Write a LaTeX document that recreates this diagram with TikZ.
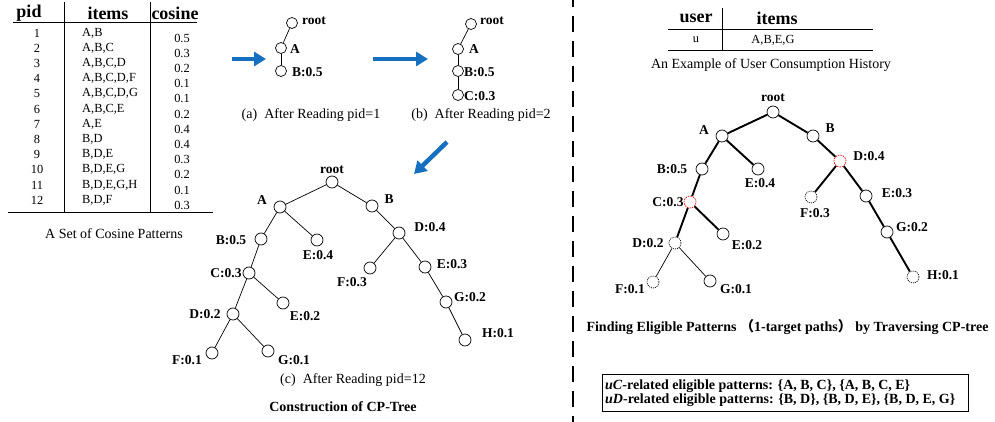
\documentclass[tikz,border=0pt]{standalone}
\usepackage{fontspec}
\setmainfont{Liberation Serif}
\newfontfamily\cjk{Noto Sans CJK SC}
\usetikzlibrary{arrows.meta}
\definecolor{arrowblue}{RGB}{22,112,192}
\begin{document}
\begin{tikzpicture}[x=1pt,y=-1pt,
  nd/.style={circle,draw,minimum size=12pt,inner sep=0pt,line width=0.7pt},
  snd/.style={nd,minimum size=11pt},
  rednd/.style={nd,draw=red,dash pattern=on 1.5pt off 1pt},
  dotnd/.style={nd,dash pattern=on 1pt off 1pt},
  lb/.style={font=\fontsize{13.5}{15}\selectfont\bfseries,inner sep=0pt},
  lbw/.style={lb,anchor=west},
  capt/.style={font=\fontsize{14}{16}\selectfont,inner sep=0pt},
  bcapt/.style={font=\fontsize{14}{16}\selectfont\bfseries,inner sep=0pt},
  hd/.style={font=\fontsize{18}{20}\selectfont\bfseries,inner sep=0pt},
  cell/.style={font=\fontsize{12.4}{14}\selectfont,inner sep=0pt},
  edge/.style={line width=0.7pt},
  tedge/.style={line width=1.9pt},
  rule/.style={line width=0.9pt},
  bluearrow/.style={draw=arrowblue,line width=4.5pt,-{Triangle[length=12pt,width=14pt]}}
]
\useasboundingbox (0,0) rectangle (995,422);

% ---------- left table ----------
\node[hd] (hpid) at (29,13) {pid};
\node[hd] (hitems) at (108,13) {items};
\node[hd] (hcos) at (175,13) {cosine};
\draw[rule] (13,22) -- (197,22);
\draw[rule] (64,2) -- (64,212);
\draw[rule] (150,2) -- (150,212);
\draw[rule] (8,212) -- (213,212);
\foreach \i/\tx/\cv in {1/{A,B}/0.5, 2/{A,B,C}/0.3, 3/{A,B,C,D}/0.2, 4/{A,B,C,D,F}/0.1,
  5/{A,B,C,D,G}/0.1, 6/{A,B,C,E}/0.2, 7/{A,E}/0.4, 8/{B,D}/0.4, 9/{B,D,E}/0.3,
  10/{B,D,E,G}/0.2, 11/{B,D,E,G,H}/0.1, 12/{B,D,F}/0.3}{
  \node[cell] (pid\i) at (37,{33+(\i-1)*15.2}) {\i};
  \node[cell,anchor=west] (itm\i) at (82,{33+(\i-1)*15.2}) {\tx};
  \node[cell] (cos\i) at (182,{38+(\i-1)*15.2}) {\cv};
}
\node[capt] (tcap) at (114,234) {A Set of Cosine Patterns};

% ---------- blue arrows ----------
\coordinate (a1s) at (232,59); \coordinate (a1e) at (266,59);
\coordinate (a2s) at (373,59); \coordinate (a2e) at (428,59);
\coordinate (a3s) at (447,142); \coordinate (a3e) at (414,174);
\draw[bluearrow] (a1s) -- (a1e);
\draw[bluearrow] (a2s) -- (a2e);
\draw[bluearrow] (a3s) -- (a3e);

% ---------- tree (a) ----------
\node[snd] (ar) at (292,23) {};
\node[snd] (aA) at (281,48) {};
\node[snd] (aB) at (281,71) {};
\draw[edge] (ar) -- (aA); \draw[edge] (aA) -- (aB);
\node[lbw] (arl) at (302,21) {root};
\node[lbw] (aAl) at (290,49) {A};
\node[lbw] (aBl) at (292,72) {B:0.5};
\node[capt] (acap) at (311,115) {(a)\ \ After Reading pid=1};

% ---------- tree (b) ----------
\node[snd] (br) at (471,24) {};
\node[snd] (bA) at (458,49) {};
\node[snd] (bB) at (458,71) {};
\node[snd] (bC) at (458,95) {};
\draw[edge] (br) -- (bA); \draw[edge] (bA) -- (bB); \draw[edge] (bB) -- (bC);
\node[lbw] (brl) at (480,21) {root};
\node[lbw] (bAl) at (469,49) {A};
\node[lbw] (bBl) at (464,72) {B:0.5};
\node[lbw] (bCl) at (464,96) {C:0.3};
\node[capt] (bcapn) at (481,115) {(b)\ \ After Reading pid=2};

% ---------- tree (c) ----------
\node[nd] (cr) at (332,182) {};
\node[nd] (cA) at (280,207) {};
\node[nd] (cB) at (372,206) {};
\node[nd] (cB5) at (261,239) {};
\node[nd] (cE4) at (317,240) {};
\node[nd] (cC3) at (249,273) {};
\node[nd] (cE2) at (283,303) {};
\node[nd] (cD2) at (233,314) {};
\node[nd] (cF1) at (212,353) {};
\node[nd] (cG1) at (268,351) {};
\node[nd] (cD4) at (399,233) {};
\node[nd] (cF3) at (370,268) {};
\node[nd] (cE3) at (425,267) {};
\node[nd] (cG2) at (446,302) {};
\node[nd] (cH1) at (465,340) {};
\foreach \p/\q in {cr/cA, cr/cB, cA/cB5, cA/cE4, cB5/cC3, cC3/cE2, cC3/cD2, cD2/cF1, cD2/cG1,
  cB/cD4, cD4/cF3, cD4/cE3, cE3/cG2, cG2/cH1}{\draw[edge] (\p) -- (\q);}
\node[lb] (crl) at (332,170) {root};
\node[lb] (cAl) at (262,200) {A};
\node[lb] (cBl) at (389,199) {B};
\node[lb] (cB5l) at (231,240) {B:0.5};
\node[lb] (cE4l) at (318,255) {E:0.4};
\node[lb] (cC3l) at (226,273) {C:0.3};
\node[lb] (cE2l) at (305,316) {E:0.2};
\node[lb] (cD2l) at (205,314) {D:0.2};
\node[lb] (cF1l) at (187,360) {F:0.1};
\node[lb] (cG1l) at (294,360) {G:0.1};
\node[lb] (cD4l) at (430,227) {D:0.4};
\node[lb] (cF3l) at (352,282) {F:0.3};
\node[lb] (cE3l) at (452,264) {E:0.3};
\node[lb] (cG2l) at (470,297) {G:0.2};
\node[lb] (cH1l) at (498,333) {H:0.1};
\node[capt] (ccap) at (353,380) {(c)\ \ After Reading pid=12};
\node[bcapt] (ccap2) at (343,407) {Construction of CP-Tree};

% ---------- divider ----------
\coordinate (dv1) at (573,0); \coordinate (dv2) at (573,422);
\draw[line width=2.4pt,dash pattern=on 16pt off 9pt,dash phase=9pt] (dv1) -- (dv2);

% ---------- right table ----------
\node[hd] (huser) at (696,18) {user};
\node[hd] (hitems2) at (777,18) {items};
\draw[rule] (668,29) -- (873,29);
\draw[rule] (722,8) -- (722,50);
\draw[rule] (668,50) -- (873,50);
\node[cell] (uu) at (696,40) {u};
\node[cell] (uitems) at (773,40) {A,B,E,G};
\node[capt] (ucap) at (771,65) {An Example of User Consumption History};

% ---------- right tree ----------
\node[nd] (rr) at (773,112) {};
\node[nd] (rA) at (722,136) {};
\node[nd] (rB) at (813,136) {};
\node[nd] (rB5) at (702,169) {};
\node[nd] (rE4) at (758,169) {};
\node[rednd] (rC3) at (690,202) {};
\node[nd] (rE2) at (723,234) {};
\node[dotnd] (rD2) at (675,243) {};
\node[dotnd] (rF1) at (653,282) {};
\node[nd] (rG1) at (710,281) {};
\node[rednd] (rD4) at (840,161) {};
\node[dotnd] (rF3) at (811,197) {};
\node[nd] (rE3) at (866,196) {};
\node[nd] (rG2) at (887,232) {};
\node[dotnd] (rH1) at (913,277) {};
\foreach \p/\q in {rr/rA, rr/rB, rA/rB5, rA/rE4, rB5/rC3, rC3/rE2, rC3/rD2,
  rB/rD4, rD4/rF3, rD4/rE3, rE3/rG2, rG2/rH1}{\draw[tedge] (\p) -- (\q);}
\draw[edge] (rD2) -- (rF1);
\draw[edge] (rD2) -- (rG1);
\node[lb] (rrl) at (773,98) {root};
\node[lb] (rAl) at (704,130) {A};
\node[lb] (rBl) at (830,128) {B};
\node[lb] (rB5l) at (672,169) {B:0.5};
\node[lb] (rE4l) at (760,183) {E:0.4};
\node[lb] (rC3l) at (668,202) {C:0.3};
\node[lb] (rE2l) at (747,245) {E:0.2};
\node[lb] (rD2l) at (648,243) {D:0.2};
\node[lb] (rF1l) at (630,289) {F:0.1};
\node[lb] (rG1l) at (736,289) {G:0.1};
\node[lb] (rD4l) at (869,156) {D:0.4};
\node[lb] (rF3l) at (815,213) {F:0.3};
\node[lb] (rE3l) at (897,193) {E:0.3};
\node[lb] (rG2l) at (912,227) {G:0.2};
\node[lb] (rH1l) at (943,275) {H:0.1};
\node[bcapt] (rcap) at (787.5,327) {Finding Eligible Patterns {\cjk （}1-target paths{\cjk ）} by Traversing CP-tree};

% ---------- result box ----------
\node[draw,line width=0.9pt,minimum width=366pt,minimum height=37pt,inner sep=0pt] (resbox) at (785,392.5) {};
\node[bcapt,anchor=west] (res1) at (605,386) {\textit{uC}-related eligible patterns: \{A, B, C\}, \{A, B, C, E\}};
\node[bcapt,anchor=west] (res2) at (605,400) {\textit{uD}-related eligible patterns: \{B, D\}, \{B, D, E\}, \{B, D, E, G\}};
\end{tikzpicture}
\end{document}
